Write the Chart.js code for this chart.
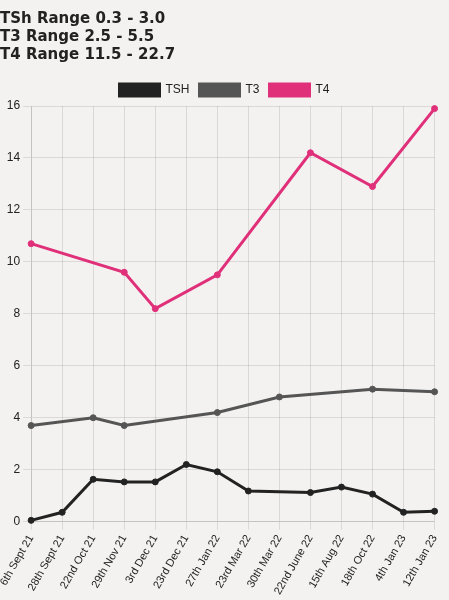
<!DOCTYPE html>
<html><head><meta charset="utf-8">
<script src="https://cdn.jsdelivr.net/npm/chart.js@4"></script>
<style>html,body{margin:0;background:#f4f2f0;}#w{width:449px;height:600px;}</style>
</head><body><div id="w"><canvas id="c"></canvas></div>
<script>
const dates = ["6th Sept 21","28th Sept 21","22nd Oct 21","29th Nov 21","3rd Dec 21","23rd Dec 21","27th Jan 22","23rd Mar 22","30th Mar 22","22nd June 22","15th Aug 22","18th Oct 22","4th Jan 23","12th Jan 23"];
const tsh = [0.05,0.36,1.63,1.53,1.53,2.2,1.92,1.18,null,1.12,1.33,1.06,0.36,0.4];
const t3 = [3.7,null,4.0,3.7,null,null,4.2,null,4.8,null,null,5.1,null,5];
const t4 = [10.7,null,null,9.6,8.2,null,9.5,null,null,14.2,null,12.9,null,15.9];
const ranges = ["TSh Range 0.3 - 3.0","T3 Range 2.5 - 5.5","T4 Range 11.5 - 22.7"];
new Chart(document.getElementById('c'),{
 type:'line',
 data:{labels:dates,datasets:[
  {label:'TSH',data:tsh,borderColor:'#222',backgroundColor:'#222',spanGaps:true,tension:0},
  {label:'T3',data:t3,borderColor:'#555',backgroundColor:'#555',spanGaps:true},
  {label:'T4',data:t4,borderColor:'#e0307a',backgroundColor:'#e0307a',spanGaps:true}
 ]},
 options:{responsive:true,maintainAspectRatio:false,animation:false,
  plugins:{title:{display:true,text:ranges,align:'start',color:'#222',font:{size:15,family:'DejaVu Sans'}},
   legend:{labels:{color:'#222'}}},
  scales:{x:{ticks:{color:'#222',maxRotation:60,minRotation:60,font:{size:11}}},
   y:{beginAtZero:true,ticks:{color:'#222'}}}}
});
</script></body></html>
